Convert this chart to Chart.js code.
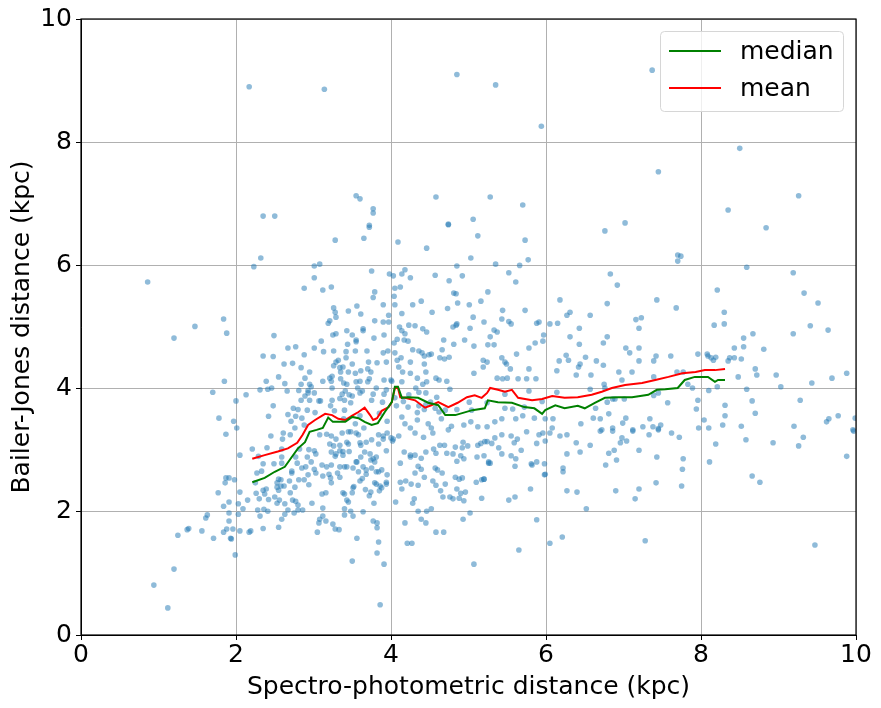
<!DOCTYPE html>
<html>
<head>
<meta charset="utf-8">
<script src="https://cdn.jsdelivr.net/npm/chart.js@4.4.1/dist/chart.umd.min.js"></script>
<style>
html,body{margin:0;padding:0;background:#fff;}
#wrap{width:881px;height:708px;}
</style>
</head>
<body>
<div id="wrap"><canvas id="c" width="881" height="708"></canvas></div>
<script>
// ---- Data ----
const xTicks = [0, 2, 4, 6, 8, 10];
const yTicks = [0, 2, 4, 6, 8, 10];

// scattered stars: [spectro-photometric distance, Bailer-Jones distance] (kpc)
const starsHigh = [
[2.17,8.90],[3.14,8.86],[2.35,6.80],[2.50,6.80],[4.85,9.10],[5.35,8.93],[5.94,8.26],[3.55,7.13],[3.60,7.08],
[3.77,6.92],[3.77,6.85],[4.58,7.11],[5.28,7.11],[5.70,6.98],[5.06,6.75],[4.74,6.67],[3.72,6.65],[7.37,9.17],
[7.45,7.52],[8.50,7.90],[9.26,7.13],[8.35,6.90],[7.02,6.69],[6.76,6.56],[8.84,6.61],[7.70,6.17],[7.74,6.15],
[7.70,6.07],[3.28,6.41],[2.32,6.12],[3.72,6.62],[3.65,6.44],[4.09,6.38],[4.46,6.28],[5.12,6.48],[5.73,6.41],
[5.03,6.12],[5.77,6.09],[5.35,6.02],[5.66,6.00],[3.01,5.99],[3.08,6.02],[2.23,5.98]
];
const starsLeftMid = [
[3.01,5.80],[2.88,5.63],[3.23,5.65],[3.12,5.60],[3.26,5.31],[3.28,5.24],[3.29,5.16],[3.21,5.10],[3.19,5.06],
[1.84,5.13],[1.47,5.01],[1.20,4.82],[1.88,4.90],[2.49,4.86],[3.25,4.87],[3.29,4.89],[3.10,4.77],[2.67,4.66],
[2.77,4.68],[3.01,4.66],[3.13,4.60],[3.26,4.61],[2.35,4.53],[2.48,4.52],[2.88,4.55],[3.32,4.46],[3.29,4.43],
[2.62,4.40],[2.73,4.41],[2.84,4.34],[3.26,4.37],[3.34,4.34],[2.95,4.27],[2.55,4.19],[3.24,4.20],[3.21,4.17],
[3.35,4.16],[2.89,4.17],[2.39,4.12],[2.63,4.08],[2.84,4.07],[2.95,4.07],[2.97,4.03],[3.12,4.12],[3.23,4.12],
[3.24,4.01],[1.85,4.12],[1.70,3.94],[2.31,3.98],[2.41,3.99],[2.46,4.01],[2.66,3.96],[2.81,3.97],[2.93,3.97],
[2.93,3.93],[3.01,3.93],[2.89,3.88],[2.13,3.90],[2.00,3.80],[2.84,3.81],[2.95,3.81],[3.07,3.80],[3.09,3.80],
[3.24,3.81],[3.34,3.84],[2.48,3.72],[2.74,3.68],[2.80,3.66],[2.92,3.65],[3.22,3.72],[2.67,3.58],[2.77,3.55],
[2.42,3.55],[3.02,3.61],[3.27,3.64],[1.78,3.52],[1.97,3.47],[2.71,3.47],[2.85,3.52],[2.88,3.41],[2.76,3.36],
[2.01,3.36]
];
const starsLeftLow = [
[1.87,3.26],[2.61,3.28],[2.70,3.25],[2.45,3.23],[2.60,3.18],[3.08,3.25],[3.17,3.26],[3.23,3.23],[3.29,3.18],
[3.21,3.10],[3.26,3.07],[2.21,3.02],[2.40,3.04],[2.59,3.02],[2.82,3.02],[2.94,3.01],[3.01,2.99],[2.05,2.92],
[2.29,2.90],[2.59,2.89],[2.77,2.89],[2.92,2.89],[3.03,2.94],[3.23,2.97],[3.29,2.94],[3.28,2.90],[2.35,2.78],
[2.49,2.78],[2.59,2.79],[2.79,2.79],[2.97,2.81],[3.11,2.76],[3.23,2.76],[3.17,2.73],[2.85,2.71],[2.90,2.73],
[3.01,2.69],[2.33,2.66],[2.27,2.63],[2.72,2.66],[2.72,2.63],[3.03,2.63],[3.20,2.61],[3.31,2.63],[3.34,2.56],
[3.12,2.58],[2.93,2.60],[2.25,2.47],[2.55,2.53],[2.58,2.52],[2.53,2.47],[2.69,2.50],[2.81,2.52],[2.88,2.52],
[3.23,2.47],[3.22,2.55],[1.87,2.55],[1.91,2.55],[1.86,2.47],[1.98,2.52],[2.94,2.44],[2.53,2.40],[2.58,2.42],
[2.62,2.42],[2.35,2.35],[2.39,2.37],[2.55,2.35],[2.76,2.40],[1.77,2.31],[2.05,2.32],[2.26,2.30],[2.37,2.29],
[2.70,2.31],[3.11,2.29],[3.16,2.31],[2.30,2.21],[2.42,2.20],[2.15,2.19],[2.50,2.24],[2.56,2.19],[2.73,2.19],
[2.77,2.17],[1.91,2.16],[1.84,2.09],[2.03,2.13],[2.63,2.13],[2.80,2.11],[2.98,2.14],[2.53,2.14],[3.12,2.06],
[2.09,2.05],[2.28,2.03],[2.36,2.04],[2.41,2.01],[2.67,2.03],[2.75,1.98],[2.80,2.03],[2.86,2.03],[1.91,1.98],
[2.03,1.96],[1.63,1.95],[1.61,1.90],[2.31,1.93],[2.63,1.96],[3.08,1.88],[3.12,1.93],[1.91,1.85],[3.07,1.82],
[3.16,1.85],[3.25,1.80],[2.59,1.88],[1.39,1.73],[1.37,1.71],[1.56,1.69],[1.88,1.72],[1.96,1.72],[2.19,1.69],
[2.17,1.67],[2.05,1.69],[2.35,1.73],[2.55,1.75],[1.84,1.67],[3.28,1.72],[3.33,1.71],[3.05,1.67],[1.25,1.62],
[1.71,1.57],[1.93,1.57],[1.94,1.56],[1.99,1.30],[1.20,1.07],[0.94,0.81],[1.12,0.44],[0.86,5.73]
];
const starsCenterHigh = [
[4.74,6.66],[4.85,5.99],[3.75,5.91],[3.98,5.86],[4.03,5.83],[4.14,5.86],[4.18,5.93],[4.25,5.80],[4.57,5.84],
[4.92,5.83],[5.52,5.88],[5.61,5.73],[4.75,5.75],[4.05,5.63],[4.12,5.65],[4.81,5.55],[4.84,5.54],[5.25,5.57],
[3.79,5.57],[3.77,5.48],[4.04,5.50],[4.86,5.39],[5.16,5.42],[4.39,5.42],[4.28,5.36],[3.90,5.36],[4.05,5.36],
[3.56,5.34],[3.45,5.26],[3.61,5.21],[3.97,5.19],[4.14,5.22],[4.53,5.24],[4.73,5.30],[5.01,5.36],[5.44,5.27],
[5.73,5.27],[6.27,5.19],[6.31,5.24],[6.57,5.19],[5.06,5.16],[5.43,5.13],[5.55,5.05],[5.52,5.09],[5.88,5.06],
[5.91,5.08],[6.05,5.05],[6.15,5.06],[3.79,5.10],[3.90,5.08],[3.97,5.08],[4.80,5.00],[4.84,5.03],[4.85,5.05],
[5.02,4.98],[5.20,5.08],[5.33,4.95],[5.37,4.92],[5.97,4.87],[5.86,4.74],[5.96,4.77],[5.78,4.66],[5.62,4.56],
[5.28,4.84],[5.25,4.71],[5.33,4.71],[5.07,4.69],[4.95,4.79],[4.81,4.72],[4.68,4.79],[4.46,4.92],[4.41,4.97],
[4.31,5.02],[4.23,5.03],[4.11,5.00],[4.14,4.94],[4.18,4.89],[4.17,4.79],[4.22,4.77],[4.08,4.80],[4.04,4.74],
[3.91,4.87],[3.78,4.82],[3.64,4.97],[3.64,4.94],[3.43,4.94],[3.50,4.87],[3.44,4.72],[3.55,4.79],[3.55,4.76],
[3.54,4.61],[3.42,4.60],[3.42,4.50],[3.69,4.61],[3.96,4.61],[4.05,4.58],[4.28,4.63],[4.36,4.61],[4.40,4.58],
[4.43,4.53],[4.49,4.55],[4.52,4.56],[4.66,4.63],[4.63,4.50],[4.75,4.51],[4.13,4.50],[4.25,4.43],[4.08,4.46],
[3.94,4.43],[3.90,4.58],[3.82,4.42],[3.71,4.43],[3.61,4.29],[3.50,4.40],[3.38,4.35],[3.45,4.27],[3.35,4.27],
[3.54,4.25],[3.70,4.32],[3.74,4.27],[3.72,4.16],[3.70,4.11],[3.55,4.11],[3.60,4.12],[3.39,4.09],[3.43,4.07],
[3.91,4.14],[4.00,4.14],[4.10,4.35],[4.15,4.27],[4.25,4.25],[4.34,4.17],[4.43,4.40],[4.45,4.27],[4.46,4.11],
[4.41,4.07],[4.58,4.17],[4.62,4.14],[4.72,4.12],[4.76,3.99],[4.69,4.48],[5.07,4.25],[5.19,4.46],[5.19,4.35],
[5.24,4.43],[5.37,4.17],[5.47,4.43],[5.49,4.40],[5.54,4.32],[5.44,4.16],[5.50,4.17],[5.43,4.50],[5.64,4.16],
[5.78,4.32],[5.75,4.16],[5.87,4.16],[6.14,4.29],[6.17,4.45],[6.26,4.54],[6.29,4.46],[6.42,4.35],[6.44,4.40],
[6.51,4.51],[6.39,4.22],[6.58,4.22],[6.65,4.45],[6.18,5.44],[6.31,4.84],[6.43,4.72],[6.43,4.98],[6.57,3.99]
];
const starsCenterMid = [
[3.37,3.91],[3.41,3.96],[3.46,3.90],[3.40,3.81],[3.48,3.77],[3.50,3.88],[3.60,3.93],[3.75,3.81],[3.89,3.78],
[3.91,3.91],[3.94,3.98],[4.01,4.12],[3.40,3.65],[3.60,3.56],[3.39,3.51],[3.54,3.43],[3.65,3.36],[3.85,3.60],
[3.95,3.47],[4.14,3.54],[4.18,3.43],[4.25,3.36],[4.34,3.49],[4.34,3.61],[4.43,3.66],[4.48,3.43],[4.52,3.36],
[4.62,3.62],[4.65,3.51],[4.78,3.39],[4.94,3.41],[5.03,3.46],[5.12,3.38],[5.24,3.38],[5.34,3.46],[5.43,3.51],
[5.47,3.68],[5.57,3.67],[5.61,3.51],[5.70,3.56],[5.85,3.52],[5.99,3.51],[6.09,3.51],[6.08,3.36],[6.45,3.43],
[6.61,3.52],[6.64,3.68],[4.14,4.11],[4.32,4.01],[4.36,3.94],[4.45,3.93],[4.59,3.86],[4.36,3.72],[4.51,3.78],
[4.45,3.74],[4.57,3.68],[4.70,3.65],[4.85,3.66],[5.01,3.78],[5.04,3.65],[5.24,3.77],[5.47,3.91],[5.78,3.96],
[6.14,3.94],[5.95,3.79],[5.72,3.70],[4.05,3.85],[4.16,3.79],[4.23,3.90],[4.07,3.72],[4.22,3.70],[3.77,3.91],
[3.81,4.01],[3.57,4.01],[3.63,3.96]
];
const starsCenterLow = [
[3.37,3.28],[3.45,3.30],[3.48,3.30],[3.55,3.28],[3.58,3.25],[3.84,3.25],[3.90,3.23],[3.95,3.28],[4.00,3.20],
[4.03,3.18],[4.10,3.23],[4.31,3.28],[4.42,3.21],[4.54,3.28],[4.74,3.33],[3.34,3.08],[3.45,3.10],[3.43,3.13],
[3.60,3.12],[3.61,3.08],[3.68,3.13],[3.75,3.17],[3.84,3.10],[3.90,3.18],[4.02,3.15],[3.34,2.99],[3.38,2.98],
[3.46,2.98],[3.38,2.92],[3.66,2.97],[3.73,2.94],[3.61,2.89],[3.81,2.89],[3.77,2.86],[3.74,2.84],[3.79,2.81],
[3.55,2.81],[3.56,2.81],[3.94,2.99],[4.17,2.97],[4.25,2.92],[4.31,2.92],[4.25,2.89],[4.39,2.87],[4.45,2.97],
[4.55,3.02],[4.58,2.95],[4.63,3.08],[4.69,3.08],[4.72,2.95],[4.83,3.05],[4.80,2.94],[4.85,2.82],[4.92,3.04],
[4.93,3.13],[4.99,3.07],[4.94,2.86],[4.90,2.91],[5.11,2.89],[5.20,2.91],[5.12,3.08],[5.16,3.11],[5.21,3.14],
[5.24,3.14],[5.30,3.11],[5.34,3.20],[5.39,3.04],[5.43,2.94],[5.43,3.25],[5.55,3.23],[5.59,3.12],[5.63,3.18],
[5.68,3.00],[5.75,3.30],[5.55,2.91],[5.61,2.86],[5.60,2.74],[5.26,2.79],[5.20,2.53],[5.17,2.22],[5.10,2.48],
[5.88,3.11],[5.88,2.81],[5.81,2.78],[5.82,2.76],[5.91,3.25],[5.96,3.28],[5.99,3.15],[5.98,2.78],[5.99,2.61],
[5.98,2.60],[5.80,2.37],[5.60,2.24],[5.52,2.19],[5.88,1.87],[5.65,1.38],[5.07,1.15],[3.34,2.73],[3.40,2.73],
[3.43,2.73],[3.51,2.71],[3.58,2.65],[3.64,2.73],[3.68,2.61],[3.63,2.54],[3.60,2.50],[3.51,2.39],[3.52,2.41],
[3.50,2.31],[3.38,2.31],[3.40,2.29],[3.43,2.19],[3.45,2.16],[3.67,2.36],[3.72,2.26],[3.74,2.32],[3.79,2.47],
[3.81,2.45],[3.86,2.42],[3.85,2.34],[3.94,2.48],[3.94,2.45],[3.88,2.39],[3.78,2.14],[3.84,2.65],[3.88,2.68],
[3.81,2.65],[3.95,2.60],[3.68,2.68],[3.75,2.71],[3.40,2.05],[3.40,1.95],[3.48,2.01],[3.51,1.93],[3.64,2.00],
[3.77,1.85],[3.82,1.82],[3.82,1.74],[3.56,1.57],[3.84,1.51],[3.82,1.33],[3.50,1.20],[3.91,1.15],[3.86,0.49],
[4.12,2.79],[4.14,2.37],[4.12,2.48],[4.06,2.16],[4.19,2.50],[4.26,2.45],[4.35,2.43],[4.35,2.74],[4.39,2.69],
[4.31,2.63],[4.43,2.56],[4.30,2.21],[4.28,2.14],[4.35,2.01],[4.39,1.88],[4.46,2.01],[4.52,2.05],[4.45,1.82],
[4.18,1.82],[4.21,1.49],[4.27,1.49],[4.58,1.67],[4.68,1.67],[4.54,2.50],[4.58,2.43],[4.64,2.34],[4.67,2.24],
[4.70,2.45],[4.57,2.71],[4.60,2.68],[4.66,2.63],[4.76,2.24],[4.80,2.21],[4.85,2.37],[4.83,2.56],[4.88,2.53],
[4.92,2.55],[4.90,2.30],[4.96,2.32],[4.88,2.22],[4.94,2.18],[4.93,1.88],[5.02,1.98],[5.17,2.52],[5.20,2.53],
[5.28,2.79],[5.26,2.81],[6.05,3.28],[6.18,3.23],[6.27,3.25],[6.39,3.12],[6.57,3.08],[6.44,2.97],[6.27,2.94],
[6.22,2.71],[6.22,2.65],[6.27,2.34],[6.40,2.32],[6.52,2.05],[6.21,1.59],[6.05,1.49]
];
const starsRight = [
[6.70,3.31],[6.86,3.31],[7.12,3.31],[7.33,3.25],[7.45,3.33],[7.62,3.28],[7.72,3.21],[6.98,3.20],[6.96,3.12],
[7.04,3.15],[6.88,3.00],[6.81,2.95],[7.20,3.00],[6.77,2.76],[6.91,2.84],[7.43,2.89],[7.77,2.86],[7.76,2.69],
[6.90,2.34],[7.20,2.37],[7.42,2.47],[7.75,2.42],[7.15,2.21],[7.28,1.53],[8.19,3.10],[8.11,2.81],[8.58,3.17],
[8.93,3.12],[9.26,3.07],[9.32,3.21],[8.66,2.58],[8.76,2.48],[9.88,2.90],[9.97,3.31],[9.47,1.46],[8.59,5.97],
[6.83,5.86],[9.19,5.88],[6.92,5.68],[8.21,5.60],[9.33,5.55],[6.79,5.38],[9.51,5.39],[7.43,5.44],[7.68,5.31],
[8.30,5.24],[7.16,5.12],[7.23,5.15],[7.20,4.98],[8.17,5.03],[8.30,5.05],[9.41,5.02],[9.64,4.95],[9.19,4.89],
[6.79,4.84],[6.74,4.74],[8.67,4.89],[8.55,4.82],[8.55,4.68],[8.43,4.66],[8.81,4.64],[7.03,4.66],[7.08,4.58],
[7.20,4.66],[7.96,4.56],[8.08,4.56],[8.09,4.53],[8.13,4.50],[8.19,4.51],[8.16,4.46],[8.37,4.50],[8.35,4.45],
[8.43,4.50],[8.52,4.48],[7.42,4.53],[7.61,4.53],[7.39,4.45],[7.20,4.45],[6.74,4.38],[6.94,4.27],[7.11,4.27],
[7.69,4.27],[7.77,4.27],[8.70,4.32],[8.72,4.22],[8.48,4.19],[8.97,4.22],[9.88,4.25],[9.69,4.17],[6.98,4.14],
[7.39,4.19],[6.75,4.07],[6.76,4.01],[7.83,4.07],[7.89,4.01],[8.21,4.03],[8.10,3.97],[8.59,3.99],[9.03,4.03],
[9.43,4.09],[7.45,3.93],[7.39,3.89],[6.79,3.78],[6.86,3.83],[6.89,3.83],[7.01,3.83],[7.57,3.77],[7.96,3.81],
[8.66,3.80],[9.28,3.81],[8.31,3.73],[7.94,3.67],[8.70,3.60],[8.31,3.56],[6.81,3.59],[7.03,3.52],[7.34,3.51],
[6.99,3.44],[6.86,3.36],[7.12,3.33],[7.25,3.38],[7.38,3.38],[7.48,3.41],[7.45,3.35],[8.04,3.49],[7.97,3.36],
[8.10,3.36],[8.28,3.41],[8.52,3.39],[9.20,3.39],[9.62,3.46],[9.65,3.51],[9.77,3.56],[9.99,3.52],[9.96,3.33],
[6.70,3.51],[6.72,3.33]
];

// running statistics lines
const medianX = [2.21,2.37,2.50,2.63,2.72,2.80,2.89,2.95,3.04,3.12,3.19,3.25,3.32,3.41,3.50,3.58,3.66,3.75,3.83,3.92,
  4.01,4.05,4.09,4.14,4.22,4.35,4.48,4.61,4.70,4.83,5.05,5.21,5.25,5.38,5.56,5.72,5.85,5.95,5.99,6.12,6.24,6.41,6.50,
  6.63,6.76,6.93,7.11,7.32,7.43,7.54,7.70,7.79,7.92,8.01,8.09,8.18,8.22,8.31];
const medianY = [2.48,2.55,2.65,2.73,2.89,3.03,3.13,3.30,3.33,3.36,3.53,3.46,3.46,3.46,3.54,3.52,3.46,3.41,3.44,3.62,
  3.78,4.03,4.03,3.85,3.86,3.85,3.77,3.73,3.57,3.57,3.65,3.68,3.81,3.78,3.77,3.70,3.68,3.59,3.65,3.73,3.68,3.72,3.68,
  3.77,3.85,3.86,3.86,3.90,3.98,3.99,4.01,4.14,4.19,4.19,4.19,4.11,4.14,4.14];
const meanX = [2.21,2.37,2.54,2.67,2.79,2.86,2.93,3.02,3.15,3.24,3.32,3.41,3.50,3.58,3.66,3.73,3.77,3.82,3.88,3.97,
  4.01,4.05,4.09,4.12,4.18,4.31,4.44,4.52,4.61,4.74,4.86,4.98,5.08,5.17,5.24,5.28,5.38,5.47,5.56,5.64,5.82,5.95,6.08,
  6.24,6.41,6.59,6.72,6.85,7.02,7.24,7.41,7.58,7.76,7.93,8.05,8.18,8.31];
const meanY = [2.86,2.92,2.98,3.03,3.12,3.25,3.41,3.49,3.59,3.57,3.51,3.49,3.56,3.62,3.69,3.57,3.49,3.52,3.64,3.70,
  3.78,4.01,4.01,3.86,3.85,3.81,3.69,3.73,3.78,3.70,3.77,3.86,3.89,3.85,3.93,4.01,3.98,3.95,3.98,3.85,3.81,3.83,3.88,
  3.85,3.86,3.90,3.95,4.01,4.06,4.09,4.14,4.19,4.25,4.27,4.30,4.30,4.32];

// ---- build datasets ----
const allStars = [].concat(starsHigh, starsLeftMid, starsLeftLow, starsCenterHigh, starsCenterMid, starsCenterLow, starsRight)
  .map(p => ({x: p[0], y: p[1]}));
const toPts = (xs, ys) => xs.map((x, i) => ({x: x, y: ys[i]}));

const FONT = "'DejaVu Sans', sans-serif";
const FS = 25;

const framePlugin = {
  id: 'frameAndLegend',
  afterDraw(chart) {
    const {ctx, chartArea: a} = chart;
    ctx.save();
    ctx.strokeStyle = '#000';
    ctx.lineWidth = 1.2;
    ctx.strokeRect(a.left, a.top, a.right - a.left, a.bottom - a.top);
    // legend box (upper right, inside axes)
    const bx = 660.5, by = 31.5, bw = 183, bh = 80, r = 4;
    ctx.beginPath();
    ctx.moveTo(bx + r, by);
    ctx.lineTo(bx + bw - r, by); ctx.quadraticCurveTo(bx + bw, by, bx + bw, by + r);
    ctx.lineTo(bx + bw, by + bh - r); ctx.quadraticCurveTo(bx + bw, by + bh, bx + bw - r, by + bh);
    ctx.lineTo(bx + r, by + bh); ctx.quadraticCurveTo(bx, by + bh, bx, by + bh - r);
    ctx.lineTo(bx, by + r); ctx.quadraticCurveTo(bx, by, bx + r, by);
    ctx.closePath();
    ctx.fillStyle = 'rgba(255,255,255,0.8)';
    ctx.fill();
    ctx.strokeStyle = '#d6d6d6';
    ctx.lineWidth = 1;
    ctx.stroke();
    const entries = [
      {label: chart.data.datasets[0].label, color: chart.data.datasets[0].borderColor, y: 51},
      {label: chart.data.datasets[1].label, color: chart.data.datasets[1].borderColor, y: 88}
    ];
    ctx.font = FS + 'px ' + FONT;
    ctx.textBaseline = 'middle';
    ctx.textAlign = 'left';
    entries.forEach(e => {
      ctx.strokeStyle = e.color;
      ctx.lineWidth = 2;
      ctx.beginPath();
      ctx.moveTo(669, e.y);
      ctx.lineTo(721, e.y);
      ctx.stroke();
      ctx.fillStyle = '#000';
      ctx.fillText(e.label, 740, e.y + 1);
    });
    ctx.restore();
  }
};

new Chart(document.getElementById('c'), {
  type: 'scatter',
  data: {
    datasets: [
      {label: 'median', data: toPts(medianX, medianY), showLine: true, borderColor: '#008000', borderWidth: 2,
       pointRadius: 0, fill: false, tension: 0},
      {label: 'mean', data: toPts(meanX, meanY), showLine: true, borderColor: '#ff0000', borderWidth: 2,
       pointRadius: 0, fill: false, tension: 0},
      {label: 'stars', data: allStars, showLine: false, pointRadius: 2.8, borderWidth: 0,
       backgroundColor: 'rgba(31,119,180,0.5)', pointBorderColor: 'rgba(0,0,0,0)'}
    ]
  },
  options: {
    responsive: false,
    devicePixelRatio: 1,
    animation: false,
    events: [],
    layout: {padding: {left: 0, right: 25, top: 19, bottom: 0}},
    plugins: {legend: {display: false}, tooltip: {enabled: false}},
    scales: {
      x: {
        type: 'linear', min: 0, max: 10,
        afterFit(s) { s.height = 73; },
        afterBuildTicks(s) { s.ticks = xTicks.map(v => ({value: v})); },
        ticks: {color: '#000', font: {family: FONT, size: FS}, padding: 0, maxRotation: 0,
                callback: v => String(v)},
        grid: {color: '#b0b0b0', lineWidth: 1, tickColor: '#000', tickLength: 5, drawTicks: true},
        border: {display: true, color: '#000'},
        title: {display: true, text: 'Spectro-photometric distance (kpc)', color: '#000',
                font: {family: FONT, size: FS}, padding: {top: 0, bottom: 6}}
      },
      y: {
        type: 'linear', min: 0, max: 10,
        afterFit(s) { s.width = 81; },
        afterBuildTicks(s) { s.ticks = yTicks.map(v => ({value: v})); },
        ticks: {color: '#000', font: {family: FONT, size: FS}, padding: 4, callback: v => String(v)},
        grid: {color: '#b0b0b0', lineWidth: 1, tickColor: '#000', tickLength: 5, drawTicks: true},
        border: {display: true, color: '#000'},
        title: {display: true, text: 'Bailer-Jones distance (kpc)', color: '#000',
                font: {family: FONT, size: FS}, padding: {top: 7, bottom: 0}}
      }
    }
  },
  plugins: [framePlugin]
});
</script>
</body>
</html>
